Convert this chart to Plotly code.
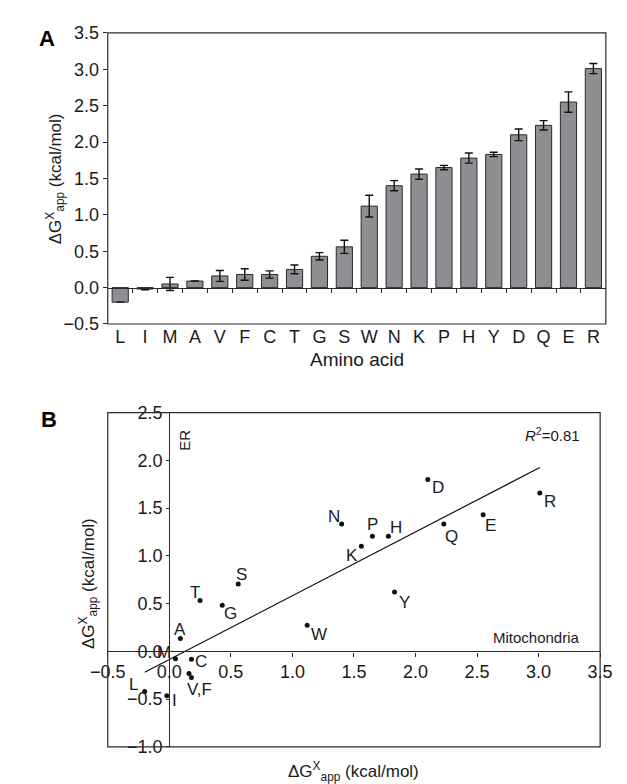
import numpy as np
import plotly.graph_objects as go

# ---------------- data ----------------
amino = ["L", "I", "M", "A", "V", "F", "C", "T", "G", "S",
         "W", "N", "K", "P", "H", "Y", "D", "Q", "E", "R"]
dg_mito = [-0.20, -0.02, 0.05, 0.09, 0.16, 0.18, 0.18, 0.25, 0.43, 0.56,
           1.12, 1.40, 1.56, 1.65, 1.78, 1.83, 2.10, 2.23, 2.55, 3.01]
dg_mito_err = [None, 0.01, 0.09, None, 0.075, 0.08, 0.05, 0.06, 0.05, 0.09,
               0.15, 0.07, 0.07, 0.03, 0.07, 0.03, 0.08, 0.065, 0.14, 0.07]
dg_er = [-0.42, -0.465, -0.078, 0.134, -0.232, -0.273, -0.082, 0.534, 0.483, 0.705,
         0.274, 1.335, 1.10, 1.205, 1.205, 0.623, 1.80, 1.335, 1.43, 1.66]
r2_text = "<i>R</i><sup>2</sup>=0.81"

# label text and placement (pixel offsets from point: dx right, dy down)
point_label_text = {a: a for a in amino}
point_label_text["F"] = "V,F"
point_label_text["V"] = ""
label_offsets = {
    "L": (-11, -7), "I": (8, 5), "M": (-11, -6), "A": (0, -9.5), "V": (0, 0),
    "F": (8, 12), "C": (10, 2), "T": (-5.5, -8), "G": (8.5, 8), "S": (3, -9.5),
    "W": (12, 9.5), "N": (-8, -7.5), "K": (-9.5, 9), "P": (0, -11.5), "H": (7.5, -8.5),
    "Y": (9.5, 10.5), "D": (10, 8), "Q": (8, 12.5), "E": (7.5, 11), "R": (10.5, 8.5),
}

# ---------------- layout geometry ----------------
W, H = 627, 784
def px(x):
    return x / W
def py(y):
    return 1 - y / H

FONT = "Liberation Sans, Arial, Helvetica, sans-serif"
TXT = "#1a1a1a"
LINE = "#2a2a2a"

xdA = [px(86), px(610)]
ydA = [py(314), py(15.3)]
xdB = [px(86), px(604)]
ydB = [py(748), py(405)]

yrA = [-0.5, 3.5]
xrB = [-0.5, 3.5]
yrB = [-1.0, 2.5]

zeroA = ydA[0] + (0 - yrA[0]) / (yrA[1] - yrA[0]) * (ydA[1] - ydA[0])
zeroBy = ydB[0] + (0 - yrB[0]) / (yrB[1] - yrB[0]) * (ydB[1] - ydB[0])
zeroBx = xdB[0] + (0 - xrB[0]) / (xrB[1] - xrB[0]) * (xdB[1] - xdB[0])

idx = list(range(len(amino)))
eps = 1e-4

fig = go.Figure()

# Panel A bars
fig.add_trace(go.Bar(
    x=idx, y=dg_mito, width=0.65,
    marker=dict(color="#8f8f93", line=dict(color=LINE, width=1)),
    error_y=dict(type="data", array=dg_mito_err, visible=True,
                 color="#111111", thickness=1.4, width=4),
    xaxis="x", yaxis="y", showlegend=False, hoverinfo="skip",
))
# invisible carrier so the zero-line axis (x3) is drawn
fig.add_trace(go.Scatter(
    x=idx, y=dg_mito, mode="markers", marker=dict(opacity=0, size=1),
    xaxis="x3", yaxis="y", showlegend=False, hoverinfo="skip",
))

# Panel B scatter
fig.add_trace(go.Scatter(
    x=dg_mito, y=dg_er, mode="markers",
    marker=dict(color="#111111", size=5),
    xaxis="x2", yaxis="y2", showlegend=False, hoverinfo="skip",
))

# regression line
slope, intercept = np.polyfit(np.array(dg_mito), np.array(dg_er), 1)
xfit = np.array([min(dg_mito), max(dg_mito)])
fig.add_trace(go.Scatter(
    x=xfit, y=slope * xfit + intercept, mode="lines",
    line=dict(color="#111111", width=1.2),
    xaxis="x2", yaxis="y2", showlegend=False, hoverinfo="skip",
))

tickfont = dict(family=FONT, size=18, color=TXT)

fig.update_layout(
    width=W, height=H,
    margin=dict(l=0, r=0, t=0, b=0),
    paper_bgcolor="white", plot_bgcolor="white",
    font=dict(family=FONT, color=TXT),
    xaxis=dict(domain=xdA, anchor="y", range=[-0.5, len(amino) - 0.5],
               tickmode="array", tickvals=idx, ticktext=amino,
               ticks="", showline=False, showgrid=False, zeroline=False,
               tickfont=tickfont, fixedrange=True),
    xaxis3=dict(domain=xdA, overlaying="x", anchor="free", position=zeroA,
                range=[-0.5, len(amino) - 0.5],
                tickmode="array", tickvals=[i + 0.5 for i in idx[:-1]],
                ticks="outside", ticklen=4, tickwidth=1, tickcolor=LINE,
                showticklabels=False, showline=True, linecolor=LINE, linewidth=1.2,
                showgrid=False, zeroline=False),
    yaxis=dict(domain=ydA, anchor="x", range=[yrA[0] - eps, yrA[1] + eps],
               dtick=0.5, tick0=0, tickformat=".1f",
               ticks="outside", ticklen=4, tickwidth=1, tickcolor=LINE,
               showline=False, showgrid=False, zeroline=False, tickfont=tickfont),
    xaxis2=dict(domain=xdB, anchor="free", position=zeroBy,
                range=[xrB[0] - eps, xrB[1] + eps], dtick=0.5, tick0=0, tickformat=".1f",
                ticks="outside", ticklen=4, tickwidth=1, tickcolor=LINE,
                showline=True, linecolor=LINE, linewidth=1.2,
                showgrid=False, zeroline=False, tickfont=tickfont),
    yaxis2=dict(domain=ydB, anchor="free", position=zeroBx,
                range=[yrB[0] - eps, yrB[1] + eps], dtick=0.5, tick0=0, tickformat=".1f",
                ticks="outside", ticklen=3, tickwidth=1, tickcolor=LINE,
                showline=True, linecolor=LINE, linewidth=1.2,
                showgrid=False, zeroline=False, tickfont=tickfont),
)

# frames
for xr, yr in [("x domain", "y domain"), ("x2 domain", "y2 domain")]:
    fig.add_shape(type="rect", xref=xr, yref=yr, x0=0, x1=1, y0=0, y1=1,
                  line=dict(color=LINE, width=1.2), layer="above")

ann = []
# point labels
for a, xv, yv in zip(amino, dg_mito, dg_er):
    t = point_label_text[a]
    if not t:
        continue
    dx, dy = label_offsets[a]
    ann.append(dict(x=xv, y=yv, xref="x2", yref="y2", text=t, showarrow=False,
                    xanchor="center", yanchor="middle", xshift=dx, yshift=-dy,
                    font=dict(family=FONT, size=17, color=TXT)))

ytitle = "ΔG<sup>X</sup><sub>app</sub> (kcal/mol)"
extra = [
    dict(x=px(22), y=py(21), text="<b>A</b>", font=dict(family=FONT, size=22, color="#000")),
    dict(x=px(24), y=py(412), text="<b>B</b>", font=dict(family=FONT, size=22, color="#000")),
    dict(x=px(31), y=py(165), text=ytitle, textangle=-90, font=dict(family=FONT, size=17, color=TXT)),
    dict(x=px(348), y=py(350), text="Amino acid", font=dict(family=FONT, size=19, color=TXT)),
    dict(x=px(65), y=py(580), text=ytitle, textangle=-90, font=dict(family=FONT, size=17, color=TXT)),
    dict(x=px(345), y=py(773), text=ytitle, font=dict(family=FONT, size=17, color=TXT)),
    dict(x=px(167), y=py(433), text="ER", textangle=-90, font=dict(family=FONT, size=15, color=TXT)),
    dict(x=px(585), y=py(427), text=r2_text, xanchor="right", font=dict(family=FONT, size=15, color=TXT)),
    dict(x=px(585), y=py(636), text="Mitochondria", xanchor="right", font=dict(family=FONT, size=15, color=TXT)),
]
for a in extra:
    a.setdefault("xref", "paper")
    a.setdefault("yref", "paper")
    a.setdefault("showarrow", False)
    a.setdefault("xanchor", "center")
    a.setdefault("yanchor", "middle")
ann += extra

fig.update_layout(annotations=ann)
fig.write_html("out.html")
